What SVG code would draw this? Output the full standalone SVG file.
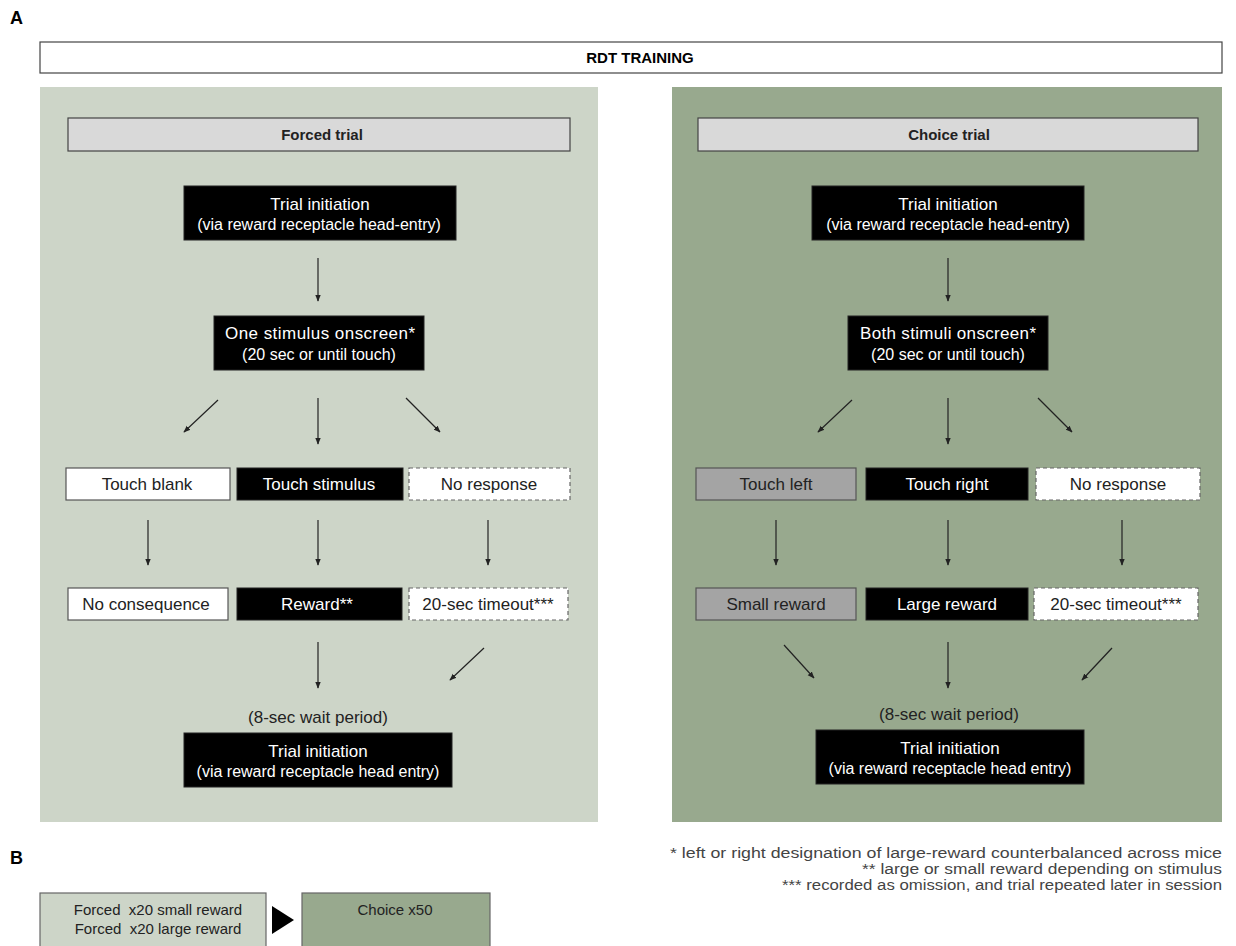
<svg xmlns="http://www.w3.org/2000/svg" width="1236" height="946" viewBox="0 0 1236 946">
<defs>
<marker id="ah" viewBox="0 0 10 10" refX="9" refY="5" markerWidth="7" markerHeight="7" orient="auto" markerUnits="userSpaceOnUse">
<path d="M0,1 L10,5 L0,9 z" fill="#222"/>
</marker>
<style>
text{font-family:"Liberation Sans",Arial,sans-serif;font-size:17px;text-anchor:middle;}
.blk{fill:#000;stroke:#222;stroke-width:1}
.wht{fill:#fff;stroke:#555;stroke-width:1.2}
.dsh{fill:#fff;stroke:#666;stroke-width:1.2;stroke-dasharray:4 3}
.gry{fill:#a4a4a4;stroke:#555;stroke-width:1.2}
.tw{fill:#fff}
.tk{fill:#222}
.sub{font-size:16px}
.hdr{fill:#d9d9d9;stroke:#444;stroke-width:1.2}
.conn line{stroke:#222;stroke-width:1.2;marker-end:url(#ah)}
.bold{font-weight:bold}
.foot{font-size:14px;text-anchor:end;fill:#444}
</style>
</defs>
<rect width="1236" height="946" fill="#fff"/>
<text x="10" y="24" class="bold" style="text-anchor:start;font-size:18px">A</text>
<g id="title"><rect x="40" y="42" width="1182" height="31" fill="#fff" stroke="#444" stroke-width="1.2"/><text x="640" y="63" class="bold" style="font-size:15px">RDT TRAINING</text></g>
<rect id="panelLeft" x="40" y="87" width="558" height="735" fill="#cdd5c8"/>
<rect id="panelRight" x="672" y="87" width="550" height="735" fill="#98a98e"/>

<g id="forcedHdr"><rect class="hdr" x="68" y="118" width="502" height="33"/><text x="322" y="140" class="bold tk" style="font-size:15px">Forced trial</text></g>
<g id="choiceHdr"><rect class="hdr" x="698" y="118" width="500" height="33"/><text x="949" y="140" class="bold tk" style="font-size:15px">Choice trial</text></g>

<!-- Forced column -->
<g id="f_init"><rect class="blk" x="184" y="186" width="272" height="54"/><text x="320" y="210" class="tw">Trial initiation</text><text x="319" y="230" class="tw sub">(via reward receptacle head-entry)</text></g>
<g id="f_stim"><rect class="blk" x="214" y="316" width="210" height="54"/><text x="320" y="339" class="tw" textLength="190">One stimulus onscreen*</text><text x="319" y="360" class="tw sub">(20 sec or until touch)</text></g>
<g id="f_blank"><rect class="wht" x="66" y="468" width="164" height="32"/><text x="147" y="490" class="tk">Touch blank</text></g>
<g id="f_touch"><rect class="blk" x="237" y="468" width="166" height="32"/><text x="319" y="490" class="tw">Touch stimulus</text></g>
<g id="f_noresp"><rect class="dsh" x="409" y="468" width="161" height="32"/><text x="489" y="490" class="tk">No response</text></g>
<g id="f_nocons"><rect class="wht" x="68" y="588" width="160" height="32"/><text x="146" y="610" class="tk">No consequence</text></g>
<g id="f_reward"><rect class="blk" x="237" y="588" width="165" height="32"/><text x="317" y="610" class="tw">Reward**</text></g>
<g id="f_timeout"><rect class="dsh" x="409" y="588" width="159" height="32"/><text x="488" y="610" class="tk">20-sec timeout***</text></g>
<text x="318" y="723" class="tk">(8-sec wait period)</text>
<g id="f_init2"><rect class="blk" x="184" y="733" width="268" height="54"/><text x="318" y="757" class="tw">Trial initiation</text><text x="318" y="777" class="tw sub">(via reward receptacle head entry)</text></g>

<!-- Choice column -->
<g id="c_init"><rect class="blk" x="812" y="186" width="272" height="54"/><text x="948" y="210" class="tw">Trial initiation</text><text x="948" y="230" class="tw sub">(via reward receptacle head-entry)</text></g>
<g id="c_stim"><rect class="blk" x="848" y="316" width="200" height="54"/><text x="948" y="339" class="tw" textLength="176">Both stimuli onscreen*</text><text x="948" y="360" class="tw sub">(20 sec or until touch)</text></g>
<g id="c_left"><rect class="gry" x="696" y="468" width="160" height="32"/><text x="776" y="490" class="tk">Touch left</text></g>
<g id="c_right"><rect class="blk" x="866" y="468" width="162" height="32"/><text x="947" y="490" class="tw">Touch right</text></g>
<g id="c_noresp"><rect class="dsh" x="1036" y="468" width="164" height="32"/><text x="1118" y="490" class="tk">No response</text></g>
<g id="c_small"><rect class="gry" x="696" y="588" width="160" height="32"/><text x="776" y="610" class="tk">Small reward</text></g>
<g id="c_large"><rect class="blk" x="866" y="588" width="162" height="32"/><text x="947" y="610" class="tw">Large reward</text></g>
<g id="c_timeout"><rect class="dsh" x="1034" y="588" width="164" height="32"/><text x="1116" y="610" class="tk">20-sec timeout***</text></g>
<text x="949" y="720" class="tk">(8-sec wait period)</text>
<g id="c_init2"><rect class="blk" x="816" y="730" width="268" height="54"/><text x="950" y="754" class="tw">Trial initiation</text><text x="950" y="774" class="tw sub">(via reward receptacle head entry)</text></g>

<g id="connectors" class="conn">
<line x1="318" y1="258" x2="318" y2="301"/>
<line x1="218" y1="400" x2="184" y2="432"/>
<line x1="318" y1="398" x2="318" y2="444"/>
<line x1="406" y1="398" x2="440" y2="432"/>
<line x1="148" y1="520" x2="148" y2="565"/>
<line x1="318" y1="520" x2="318" y2="565"/>
<line x1="488" y1="520" x2="488" y2="565"/>
<line x1="318" y1="642" x2="318" y2="688"/>
<line x1="484" y1="648" x2="450" y2="680"/>
<line x1="948" y1="258" x2="948" y2="301"/>
<line x1="852" y1="400" x2="818" y2="432"/>
<line x1="948" y1="398" x2="948" y2="444"/>
<line x1="1038" y1="398" x2="1072" y2="432"/>
<line x1="776" y1="520" x2="776" y2="565"/>
<line x1="948" y1="520" x2="948" y2="565"/>
<line x1="1122" y1="520" x2="1122" y2="565"/>
<line x1="784" y1="645" x2="814" y2="678"/>
<line x1="948" y1="642" x2="948" y2="688"/>
<line x1="1112" y1="648" x2="1082" y2="680"/>
</g>

<g id="footnotes">
<text x="1222" y="858" class="foot" textLength="552" lengthAdjust="spacingAndGlyphs">* left or right designation of large-reward counterbalanced across mice</text>
<text x="1222" y="874" class="foot" textLength="360" lengthAdjust="spacingAndGlyphs">** large or small reward depending on stimulus</text>
<text x="1222" y="890" class="foot" textLength="440" lengthAdjust="spacingAndGlyphs">*** recorded as omission, and trial repeated later in session</text>
</g>

<text x="10" y="864" class="bold" style="text-anchor:start;font-size:18px">B</text>
<g id="b_forced"><rect x="40" y="893" width="226" height="60" fill="#cdd5c8" stroke="#666" stroke-width="1.2"/><text x="158" y="915" class="tk" style="font-size:15px" xml:space="preserve">Forced  x20 small reward</text><text x="158" y="934" class="tk" style="font-size:15px" xml:space="preserve">Forced  x20 large reward</text></g>
<g id="b_arrow"><path d="M272,906 L294,920 L272,934 z" fill="#000"/></g>
<g id="b_choice"><rect x="302" y="893" width="188" height="60" fill="#98a98e" stroke="#666" stroke-width="1.2"/><text x="395" y="915" class="tk" style="font-size:15px">Choice x50</text></g>
</svg>
